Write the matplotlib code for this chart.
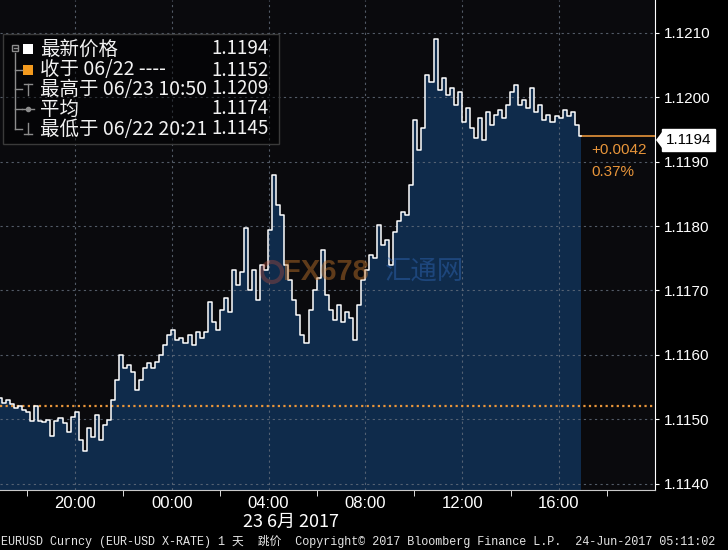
import numpy as np
import matplotlib.pyplot as plt
from matplotlib.patches import Rectangle, Polygon, Circle

# 1. Datos: EURUSD, un punto cada 10 minutos desde las 16:54 del 22/06
# (las horas son relativas a las 00:00 del 23/06)
inicio_horas = -7.1
paso_horas = 1 / 6
precios = [
    1.11533, 1.11525, 1.11529, 1.11524, 1.11518, 1.11521, 1.11515, 1.11511,
    1.11497, 1.11521, 1.11497, 1.11496, 1.11499, 1.11474, 1.11497, 1.11502,
    1.11494, 1.11480, 1.11504, 1.11511, 1.11468, 1.11451, 1.11487, 1.11473,
    1.11507, 1.11468, 1.11491, 1.11499, 1.11530, 1.11561, 1.11600, 1.11580,
    1.11584, 1.11574, 1.11546, 1.11561, 1.11580, 1.11588, 1.11580, 1.11589,
    1.11600, 1.11615, 1.11631, 1.11639, 1.11623, 1.11626, 1.11619, 1.11631,
    1.11615, 1.11636, 1.11626, 1.11636, 1.11682, 1.11651, 1.11639, 1.11670,
    1.11688, 1.11667, 1.11732, 1.11709, 1.11729, 1.11797, 1.11701, 1.11732,
    1.11685, 1.11740, 1.11732, 1.11794, 1.11879, 1.11833, 1.11817, 1.11740,
    1.11716, 1.11685, 1.11662, 1.11631, 1.11619, 1.11670, 1.11701, 1.11720,
    1.11763, 1.11693, 1.11670, 1.11654, 1.11678, 1.11651, 1.11667, 1.11657,
    1.11623, 1.11678, 1.11716, 1.11732, 1.11755, 1.11751, 1.11802, 1.11771,
    1.11779, 1.11740, 1.11791, 1.11807, 1.11822, 1.11817, 1.11864, 1.11965,
    1.11918, 1.11952, 1.12035, 1.12024, 1.12090, 1.12011, 1.12030, 1.12004,
    1.12015, 1.11988, 1.12008, 1.11962, 1.11984, 1.11952, 1.11937, 1.11968,
    1.11934, 1.11977, 1.11957, 1.11973, 1.11980, 1.11968, 1.11988, 1.12008,
    1.12019, 1.11988, 1.11996, 1.11984, 1.12015, 1.11977, 1.11988, 1.11965,
    1.11973, 1.11962, 1.11971, 1.11968, 1.11980, 1.11971, 1.11977, 1.11957,
    1.11940,
]
horas = inicio_horas + paso_horas * np.arange(len(precios))

horas_ticks = [-4, 0, 4, 8, 12, 16]
etiquetas_x = ['20:00', '00:00', '04:00', '08:00', '12:00', '16:00']
horas_menores = [-6, -2, 2, 6, 10, 14, 18]
niveles_y = [1.1140, 1.1150, 1.1160, 1.1170, 1.1180, 1.1190, 1.1200, 1.1210]

cierre_anterior = 1.1152
ultimo_precio = 1.1194
cambio = '+0.0042'
cambio_pct = '0.37%'

leyenda_nombres = ['最新价格', '收于 06/22 ----', '最高于 06/23 10:50', '平均', '最低于 06/22 20:21']
leyenda_valores = ['1.1194', '1.1152', '1.1209', '1.1174', '1.1145']

fecha = '23 6月 2017'
pie = 'EURUSD Curncy (EUR-USD X-RATE) 1 天  跳价  Copyright© 2017 Bloomberg Finance L.P.  24-Jun-2017 05:11:02'

# colores
negro = '#0a0a0d'
azul = '#0f2b4b'
naranja = '#e8953a'
gris_grid = '#66707e'
cjk = ['Noto Sans CJK SC', 'DejaVu Sans']
num = ['Liberation Sans', 'DejaVu Sans']

# 2. Figura y ejes
fig = plt.figure(figsize=(7.28, 5.5), dpi=100, facecolor='#000000')
ax = fig.add_axes([0, 60 / 550, 655 / 728, 490 / 550])
ax.set_facecolor(negro)

y_min, y_max = 1.11390, 1.12151
ax.set_xlim(-7.1, 19.97)
ax.set_ylim(y_min, y_max)

ax.fill_between(horas, precios, y_min, step='mid', color=azul, lw=0, zorder=1)
ax.plot(horas, precios, color='white', lw=1.1, drawstyle='steps-mid', zorder=4)

# rejilla punteada
for h in horas_ticks:
    ax.axvline(h, color=gris_grid, lw=0.8, ls=(0, (2, 3)), alpha=0.8, zorder=2)
for n in niveles_y:
    ax.axhline(n, color=gris_grid, lw=0.8, ls=(0, (2, 3)), alpha=0.8, zorder=2)

# cierre anterior y ultimo precio
ax.axhline(cierre_anterior, color=naranja, lw=1.6, ls=(0, (1, 1.5)), zorder=3)
ax.plot([horas[-1], 19.97], [ultimo_precio, ultimo_precio], color=naranja, lw=1.2, zorder=3)
ax.text(16.95 + 0.4, 1.11918, cambio, color=naranja, fontsize=11, family=num, va='center', zorder=5)
ax.text(16.95 + 0.4, 1.11884, cambio_pct, color=naranja, fontsize=11, family=num, va='center', zorder=5)

# ejes
for lado in ['left', 'top']:
    ax.spines[lado].set_visible(False)
ax.spines['right'].set_color('white')
ax.spines['bottom'].set_color('#c8c8c8')

ax.yaxis.tick_right()
ax.set_yticks(niveles_y)
ax.set_yticklabels([f'{n:.4f}' for n in niveles_y], family=num, fontsize=11, color='white')
ax.tick_params(axis='y', colors='white', length=3, pad=3.5)

ax.set_xticks(horas_ticks)
ax.set_xticklabels(etiquetas_x, family=num, fontsize=12, color='white')
ax.set_xticks(horas_menores, minor=True)
ax.tick_params(axis='x', which='major', length=0, pad=4)
ax.tick_params(axis='x', which='minor', length=4, color='white')

# 3. Capa superior en pixeles (leyenda, textos)
capa = fig.add_axes([0, 0, 1, 1], zorder=5)
capa.set_xlim(0, 728)
capa.set_ylim(550, 0)
capa.axis('off')

capa.add_patch(Rectangle((3, 34), 276, 110, facecolor=(0, 0, 0, 0.45), edgecolor='#3a3a3a', lw=1))
filas_y = [49, 70, 89, 109, 129]
for i in range(len(leyenda_nombres)):
    capa.text(40, filas_y[i], leyenda_nombres[i], color='#f2f2f2', fontsize=14, family=cjk, va='center')
    capa.text(269, filas_y[i], leyenda_valores[i], color='#f2f2f2', fontsize=13.5, family=cjk,
              va='center', ha='right')

gris_arbol = '#8c8c8c'
capa.plot([15, 15], [53, filas_y[4]], color=gris_arbol, lw=1)
for y in filas_y[1:]:
    capa.plot([15, 22], [y, y], color=gris_arbol, lw=1)
capa.add_patch(Rectangle((12, 45), 6, 6, facecolor='none', edgecolor=gris_arbol, lw=1))
capa.plot([13.5, 16.5], [48, 48], color=gris_arbol, lw=1)
capa.add_patch(Rectangle((23, 44), 10, 10, facecolor='white', lw=0))
capa.add_patch(Rectangle((23, 65), 10, 10, facecolor='#f39a1e', lw=0))
capa.plot([24, 32], [84, 84], color=gris_arbol, lw=1)
capa.plot([28, 28], [84, 95], color=gris_arbol, lw=1)
capa.plot([22, 34], [filas_y[3], filas_y[3]], color=gris_arbol, lw=1)
capa.plot([28], [filas_y[3]], marker='o', ms=3, color=gris_arbol)
capa.plot([28, 28], [123, 134], color=gris_arbol, lw=1)
capa.plot([24, 32], [134, 134], color=gris_arbol, lw=1)

# marca de agua
capa.add_patch(Circle((272, 272), 10, facecolor='none', edgecolor='#c0503a', lw=3, alpha=0.35))
capa.text(283, 272, 'FX678', color='#c8782c', fontsize=21, fontweight='bold', family=num,
          va='center', alpha=0.45)
capa.text(385, 272, '汇通网', color='#3068b8', fontsize=19, family=cjk, va='center', alpha=0.45)

# caja del ultimo precio
capa.add_patch(Polygon([(656, 140), (662, 132), (662, 148)], facecolor='white', lw=0))
capa.text(666, 140, f'{ultimo_precio:.4f}', color='black', fontsize=11, family=num, va='center',
          bbox=dict(boxstyle='square,pad=0.25', facecolor='white', edgecolor='white'))

capa.text(291, 522, fecha, color='white', fontsize=13, family=cjk, ha='center', va='center')
capa.text(1, 541, pie, color='#e6e6e6', fontsize=8.5, family=['Liberation Mono', 'Noto Sans CJK SC'],
          va='center')

fig.savefig('out.png', dpi=100, facecolor=fig.get_facecolor())
